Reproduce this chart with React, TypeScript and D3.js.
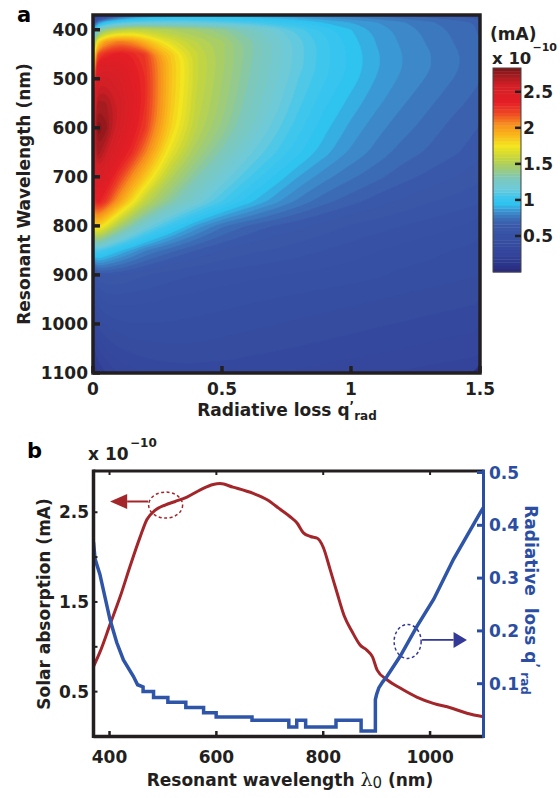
import React from 'react';
import * as d3 from 'd3';

// ---------- Panel a: absorption map (×1e-10 mA) ----------
const qCols = [0, 0.02, 0.05, 0.1, 0.15, 0.2, 0.3, 0.4, 0.5, 0.6, 0.7, 0.8, 0.9, 1.0, 1.1, 1.2, 1.3, 1.4, 1.5];
const lambdaRows = [370, 385, 400, 425, 450, 475, 500, 550, 600, 650, 700, 750, 800, 850, 900, 950, 1000, 1050, 1100];
const row370 = [0.15, 0.25, 0.4, 0.6, 0.72, 0.8, 0.86, 0.88, 0.88, 0.87, 0.85, 0.82, 0.79, 0.76, 0.73, 0.7, 0.67, 0.64, 0.62];
const row385 = [0.5, 0.8, 0.95, 1.05, 1.1, 1.12, 1.14, 1.13, 1.1, 1.06, 1.02, 0.97, 0.92, 0.88, 0.84, 0.8, 0.76, 0.73, 0.7];
const row400 = [0.9, 1.25, 1.4, 1.5, 1.55, 1.55, 1.5, 1.45, 1.38, 1.28, 1.18, 1.08, 1.0, 0.93, 0.87, 0.82, 0.78, 0.74, 0.7];
const row425 = [1.3, 1.8, 2.0, 2.1, 2.05, 1.92, 1.68, 1.55, 1.47, 1.35, 1.23, 1.12, 1.03, 0.95, 0.88, 0.83, 0.79, 0.75, 0.71];
const row450 = [1.55, 2.2, 2.3, 2.38, 2.33, 2.25, 1.85, 1.6, 1.47, 1.35, 1.23, 1.12, 1.03, 0.96, 0.89, 0.84, 0.8, 0.76, 0.72];
const row475 = [1.75, 2.45, 2.5, 2.47, 2.38, 2.28, 1.87, 1.6, 1.47, 1.34, 1.22, 1.12, 1.03, 0.96, 0.89, 0.84, 0.8, 0.76, 0.72];
const row500 = [1.95, 2.55, 2.58, 2.52, 2.42, 2.3, 1.87, 1.6, 1.46, 1.33, 1.21, 1.1, 1.02, 0.95, 0.88, 0.83, 0.79, 0.75, 0.71];
const row550 = [2.25, 2.72, 2.7, 2.6, 2.46, 2.3, 1.86, 1.58, 1.44, 1.3, 1.18, 1.07, 0.98, 0.91, 0.85, 0.8, 0.76, 0.72, 0.69];
const row600 = [2.55, 2.82, 2.76, 2.57, 2.41, 2.26, 1.82, 1.55, 1.4, 1.26, 1.13, 1.03, 0.94, 0.87, 0.81, 0.77, 0.73, 0.69, 0.66];
const row650 = [2.55, 2.72, 2.62, 2.45, 2.3, 2.1, 1.7, 1.46, 1.31, 1.17, 1.07, 0.98, 0.9, 0.83, 0.78, 0.73, 0.7, 0.67, 0.64];
const row700 = [2.45, 2.56, 2.45, 2.25, 2.05, 1.86, 1.52, 1.33, 1.19, 1.07, 0.97, 0.88, 0.81, 0.76, 0.72, 0.68, 0.65, 0.62, 0.59];
const row750 = [2.3, 2.36, 2.25, 2.0, 1.78, 1.57, 1.35, 1.2, 1.06, 0.95, 0.86, 0.78, 0.72, 0.68, 0.64, 0.61, 0.58, 0.56, 0.54];
const row800 = [1.8, 1.82, 1.7, 1.48, 1.33, 1.2, 1.02, 0.87, 0.76, 0.7, 0.66, 0.63, 0.6, 0.57, 0.55, 0.53, 0.51, 0.49, 0.47];
const row850 = [1.05, 1.08, 1.02, 0.94, 0.87, 0.8, 0.72, 0.66, 0.62, 0.59, 0.57, 0.55, 0.53, 0.51, 0.49, 0.47, 0.46, 0.44, 0.43];
const row900 = [0.55, 0.62, 0.63, 0.62, 0.6, 0.58, 0.55, 0.53, 0.51, 0.5, 0.49, 0.48, 0.47, 0.46, 0.45, 0.43, 0.42, 0.41, 0.4];
const row950 = [0.4, 0.47, 0.5, 0.51, 0.5, 0.5, 0.48, 0.47, 0.46, 0.45, 0.44, 0.43, 0.42, 0.41, 0.4, 0.39, 0.38, 0.37, 0.36];
const row1000 = [0.3, 0.37, 0.41, 0.43, 0.44, 0.44, 0.44, 0.43, 0.42, 0.41, 0.4, 0.39, 0.38, 0.37, 0.36, 0.35, 0.34, 0.33, 0.32];
const row1050 = [0.2, 0.27, 0.31, 0.35, 0.37, 0.38, 0.39, 0.39, 0.38, 0.37, 0.36, 0.35, 0.34, 0.33, 0.32, 0.31, 0.3, 0.29, 0.28];
const row1100 = [0.12, 0.18, 0.22, 0.27, 0.29, 0.31, 0.33, 0.33, 0.33, 0.32, 0.31, 0.3, 0.29, 0.28, 0.27, 0.26, 0.25, 0.24, 0.24];
const absorptionGrid = [row370, row385, row400, row425, row450, row475, row500, row550, row600, row650, row700,
  row750, row800, row850, row900, row950, row1000, row1050, row1100];

const mapYTicks = [400, 500, 600, 700, 800, 900, 1000, 1100];
const mapXTicks = [0, 0.5, 1, 1.5];
const mapXTickLabels = ['0', '0.5', '1', '1.5'];
const colorbarTicks = [0.5, 1, 1.5, 2, 2.5];
const colorbarTickLabels = ['0.5', '1', '1.5', '2', '2.5'];
const colorMax = 2.83;

// colormap (value -> colour), a printed "jet"
const cmapStops = [0, 0.15, 0.25, 0.45, 0.65, 0.75, 0.85, 0.95, 1.05, 1.15, 1.3, 1.45, 1.6, 1.75, 1.9, 2.05, 2.2, 2.35, 2.6, 2.72, 2.83];
const cmapColors = ['#27287c', '#2d3a8d', '#33459b', '#3650a2', '#3a58a9', '#3c70b8', '#3c93d0', '#2fc3ef', '#40c6ec',
  '#6ccadb', '#7cc8bc', '#a2cc72', '#c9d739', '#f4e51e', '#f9b81b', '#f6901e', '#ee4a24', '#e51e25', '#d21f26', '#a51c20', '#7c1417'];

// ---------- Panel b ----------
const solarWavelength = [370, 382, 401, 420, 438, 457, 470, 485, 504, 523, 545, 570, 594, 607, 631, 669, 695, 720, 738, 751,
  763, 776, 789, 800, 813, 826, 839, 854, 869, 882, 892, 901, 920, 944, 975, 1006, 1038, 1069, 1100];
const solarAbsorption = [0.78, 0.94, 1.25, 1.56, 1.89, 2.22, 2.42, 2.52, 2.58, 2.62, 2.67, 2.75, 2.81, 2.82, 2.78, 2.71, 2.64, 2.53, 2.45, 2.38,
  2.27, 2.23, 2.21, 2.11, 1.86, 1.6, 1.35, 1.17, 1.02, 0.96, 0.89, 0.74, 0.63, 0.54, 0.44, 0.37, 0.32, 0.26, 0.22];

const lossWavelength = [370, 373, 382, 401, 413.5, 426, 444.6, 452.5, 462.8, 462.8, 482.4, 482.4, 509.2, 509.2, 542.8, 542.8,
  576.1, 576.1, 599.6, 599.6, 666.7, 666.7, 735.6, 735.6, 750.4, 750.4, 767.1, 767.1, 823.9, 823.9, 870.9, 870.9,
  897.6, 897.6, 900, 904, 911, 919.5, 944, 975.7, 1006.8, 1044, 1094, 1100];
const lossQ = [0.368, 0.336, 0.307, 0.221, 0.178, 0.145, 0.114, 0.098, 0.094, 0.085, 0.085, 0.074, 0.074, 0.065, 0.065, 0.055,
  0.055, 0.045, 0.045, 0.037, 0.037, 0.031, 0.031, 0.018, 0.018, 0.031, 0.031, 0.018, 0.018, 0.031, 0.031, 0.0105,
  0.0105, 0.07, 0.08, 0.092, 0.103, 0.114, 0.152, 0.209, 0.26, 0.336, 0.424, 0.434];

const bXTicks = [400, 600, 800, 1000];
const bLeftTicks = [0.5, 1, 1.5, 2, 2.5];
const bLeftTickLabels = ['0.5', '', '1.5', '', '2.5'];
const bRightTicks = [0.1, 0.2, 0.3, 0.4, 0.5];
const bRightTickLabels = ['0.1', '0.2', '0.3', '0.4', '0.5'];

const FONT = "'DejaVu Sans', 'Liberation Sans', Arial, sans-serif";
const RED = '#a3262a';
const BLUE = '#2f55a8';
const AXBLUE = '#2b4ea2';
const ARROWBLUE = '#343896';
const BLACK = '#231f20';

export default function App() {
  // ---- panel a scales
  const hx = d3.scaleLinear().domain([0, 1.5]).range([93, 480]);
  const hy = d3.scaleLinear().domain([370, 1100]).range([15, 373]);
  const n = qCols.length;
  const m = lambdaRows.length;
  const values = absorptionGrid.flat();
  const qOfIdx = d3.scaleLinear().domain(d3.range(n)).range(qCols).clamp(true);
  const lOfIdx = d3.scaleLinear().domain(d3.range(m)).range(lambdaRows).clamp(true);
  const color = d3.scaleLinear<string>().domain(cmapStops).range(cmapColors).clamp(true);
  const nLevels = 64;
  const step = colorMax / nLevels;
  const thresholds = d3.range(nLevels).map((k) => k * step);
  const contours = d3.contours().size([n, m]).thresholds(thresholds)(values);
  const ringLine = d3.line<[number, number]>().curve(d3.curveBasisClosed);
  const toPath = (geom: any) =>
    geom.coordinates
      .map((poly: any) =>
        poly
          .map((ring: any) => {
            const pts: [number, number][] = [];
            ring.forEach(([px, py]: number[]) => {
              const p: [number, number] = [hx(qOfIdx(px - 0.5)), hy(lOfIdx(py - 0.5))];
              const last = pts[pts.length - 1];
              if (!last || Math.abs(last[0] - p[0]) > 0.01 || Math.abs(last[1] - p[1]) > 0.01) pts.push(p);
            });
            if (pts.length > 1) {
              const a = pts[0], b = pts[pts.length - 1];
              if (Math.abs(a[0] - b[0]) < 0.01 && Math.abs(a[1] - b[1]) < 0.01) pts.pop();
            }
            return pts.length > 2 ? ringLine(pts) || '' : '';
          })
          .join('')
      )
      .join('');

  const cb = d3.scaleLinear().domain([0, colorMax]).range([272, 68]);

  // ---- panel b scales
  const xb = d3.scaleLinear().domain([370, 1100]).range([93.5, 483.5]);
  const yl = d3.scaleLinear().domain([0, 2.96]).range([736.5, 471]);
  const yr = d3.scaleLinear().domain([0, 0.5]).range([736.5, 472.5]);
  const redLine = d3
    .line<number>()
    .x((_, i) => xb(solarWavelength[i]))
    .y((v) => yl(v))
    .curve(d3.curveMonotoneX)(solarAbsorption);
  const blueLine = d3
    .line<number>()
    .x((_, i) => xb(lossWavelength[i]))
    .y((q) => yr(q))(lossQ);

  const tickStyle = { fontFamily: FONT, fontWeight: 700, fontSize: 17 } as const;
  const supStyle = { fontFamily: FONT, fontWeight: 700, fontSize: 11 } as const;

  // annotation anchors in data units
  const redEll = { x: xb(505), y: yl(2.58) };
  const redArrowY = yl(2.62);
  const blueEll = { x: xb(958), y: yr(0.18) };
  const blueArrowY = yr(0.183);

  return (
    <svg width={560} height={798} style={{ position: 'absolute', left: 0, top: 0, background: '#fff' }}>
      <defs>
        <clipPath id="mapclip">
          <rect x={93} y={15} width={387} height={358} />
        </clipPath>
        <clipPath id="bclip">
          <rect x={93.5} y={471} width={390} height={265.5} />
        </clipPath>
      </defs>

      {/* ---------------- panel a ---------------- */}
      <text x={17} y={22} style={{ fontFamily: FONT, fontWeight: 700, fontSize: 21 }}>a</text>
      <g clipPath="url(#mapclip)">
        <rect x={93} y={15} width={387} height={358} fill={color(step / 2)} />
        {contours.map((c: any, i: number) => {
          const col = color(c.value + step / 2);
          return <path key={i} d={toPath(c)} fill={col} fillRule="evenodd" stroke={col} strokeWidth={0.6} />;
        })}
      </g>
      <rect x={93} y={15} width={387} height={358} fill="none" stroke={BLACK} strokeWidth={3.5} />
      {mapYTicks.map((t) => (
        <g key={t}>
          <line x1={93} x2={100} y1={hy(t)} y2={hy(t)} stroke={BLACK} strokeWidth={3.5} />
          <text x={88} y={hy(t)} dy="0.36em" textAnchor="end" style={tickStyle} fill={BLACK}>{t}</text>
        </g>
      ))}
      {mapXTicks.map((t, i) => (
        <g key={t}>
          <line x1={hx(t)} x2={hx(t)} y1={373} y2={366} stroke={BLACK} strokeWidth={3.5} />
          <text x={hx(t)} y={395} textAnchor="middle" style={tickStyle} fill={BLACK}>{mapXTickLabels[i]}</text>
        </g>
      ))}
      <text transform="translate(30,194) rotate(-90)" textAnchor="middle" style={tickStyle} fill={BLACK}>
        Resonant Wavelength (nm)
      </text>
      <text x={287} y={416} textAnchor="middle" style={tickStyle} fill={BLACK}>
        Radiative loss q<tspan dy={-6} fontSize={12}>’</tspan>
        <tspan dy={10} fontSize={12}>rad</tspan>
      </text>

      {/* colorbar */}
      {d3.range(nLevels).map((k) => (
        <rect key={k} x={493} width={28} y={cb((k + 1) * step)} height={cb(k * step) - cb((k + 1) * step) + 0.4}
          fill={color((k + 0.5) * step)} />
      ))}
      <rect x={493} y={68} width={28} height={204} fill="none" stroke="#444" strokeWidth={1} />
      {colorbarTicks.map((t, i) => (
        <g key={t}>
          <line x1={521} x2={515} y1={cb(t)} y2={cb(t)} stroke={BLACK} strokeWidth={2.5} />
          <text x={523} y={cb(t)} dy="0.36em" style={tickStyle} fill={BLACK}>{colorbarTickLabels[i]}</text>
        </g>
      ))}
      <text x={490} y={40} style={tickStyle} fill={BLACK}>(mA)</text>
      <text x={492} y={64} style={{ ...tickStyle, fontSize: 16.5 }} fill={BLACK}>x 10</text>
      <text x={532.5} y={51} style={supStyle} fill={BLACK}>−10</text>

      {/* ---------------- panel b ---------------- */}
      <text x={27} y={458} style={{ fontFamily: FONT, fontWeight: 700, fontSize: 21 }}>b</text>
      <text x={88} y={460} style={tickStyle} fill={BLACK}>x 10</text>
      <text x={130} y={447} style={{ ...supStyle, fontSize: 12 }} fill={BLACK}>−10</text>

      <g clipPath="url(#bclip)">
        <path d={redLine || ''} fill="none" stroke={RED} strokeWidth={3} strokeLinejoin="round" />
        <path d={blueLine || ''} fill="none" stroke={BLUE} strokeWidth={3.5} strokeLinejoin="miter" />
      </g>

      {/* axes */}
      <line x1={93.5} x2={483.5} y1={471} y2={471} stroke={BLACK} strokeWidth={3} />
      <line x1={93.5} x2={483.5} y1={736.5} y2={736.5} stroke={BLACK} strokeWidth={3.5} />
      <line x1={93.5} x2={93.5} y1={469.5} y2={738} stroke={BLACK} strokeWidth={3.5} />
      <line x1={483.5} x2={483.5} y1={469.5} y2={738} stroke={AXBLUE} strokeWidth={3} />
      {bXTicks.map((t) => (
        <g key={t}>
          <line x1={xb(t)} x2={xb(t)} y1={736.5} y2={731} stroke={BLACK} strokeWidth={2.5} />
          <line x1={xb(t)} x2={xb(t)} y1={471} y2={475} stroke={BLACK} strokeWidth={2} />
          <text x={xb(t)} y={763} textAnchor="middle" style={tickStyle} fill={BLACK}>{t}</text>
        </g>
      ))}
      {bLeftTicks.map((t, i) => (
        <g key={t}>
          <line x1={93.5} x2={97.5} y1={yl(t)} y2={yl(t)} stroke={BLACK} strokeWidth={2} />
          <text x={89} y={yl(t)} dy="0.36em" textAnchor="end" style={tickStyle} fill={BLACK}>{bLeftTickLabels[i]}</text>
        </g>
      ))}
      {bRightTicks.map((t, i) => (
        <g key={t}>
          <line x1={483.5} x2={477} y1={yr(t)} y2={yr(t)} stroke={AXBLUE} strokeWidth={3} />
          <text x={489} y={yr(t)} dy="0.36em" style={tickStyle} fill={AXBLUE}>{bRightTickLabels[i]}</text>
        </g>
      ))}
      <text transform="translate(50,604) rotate(-90)" textAnchor="middle" style={tickStyle} fill={BLACK}>
        Solar absorption (mA)
      </text>
      <text transform="translate(525,600) rotate(90)" textAnchor="middle" style={tickStyle} fill={AXBLUE}>
        Radiative{'\u00a0\u00a0'}loss q<tspan dy={-6} fontSize={12}>’</tspan>
        <tspan dy={10} fontSize={12}>{'\u00a0'}rad</tspan>
      </text>
      <text x={290} y={786} textAnchor="middle" style={tickStyle} fill={BLACK}>
        Resonant wavelength{' '}
        <tspan style={{ fontFamily: "'DejaVu Serif', serif", fontWeight: 400 }} fontSize={19}>λ</tspan>
        <tspan style={{ fontFamily: "'DejaVu Sans', sans-serif", fontWeight: 400 }} fontSize={15} dy={2}>0</tspan>
        <tspan dy={-2}> (nm)</tspan>
      </text>

      {/* annotations */}
      <ellipse cx={redEll.x} cy={redEll.y} rx={17} ry={13} fill="none" stroke={RED} strokeWidth={1.5} strokeDasharray="3,2.5" />
      <line x1={xb(472)} x2={xb(433)} y1={redArrowY} y2={redArrowY} stroke={RED} strokeWidth={2} />
      <path d={`M${xb(401)},${redArrowY}L${xb(433)},${redArrowY - 7.5}L${xb(433)},${redArrowY + 7.5}Z`} fill={RED} />
      <ellipse cx={blueEll.x} cy={blueEll.y} rx={13.5} ry={17} fill="none" stroke={ARROWBLUE} strokeWidth={1.5} strokeDasharray="3,2.5" />
      <line x1={xb(985)} x2={xb(1044)} y1={blueArrowY} y2={blueArrowY} stroke={ARROWBLUE} strokeWidth={1.8} />
      <path d={`M${xb(1069)},${blueArrowY}L${xb(1044)},${blueArrowY - 8}L${xb(1044)},${blueArrowY + 8}Z`} fill={ARROWBLUE} />
    </svg>
  );
}
